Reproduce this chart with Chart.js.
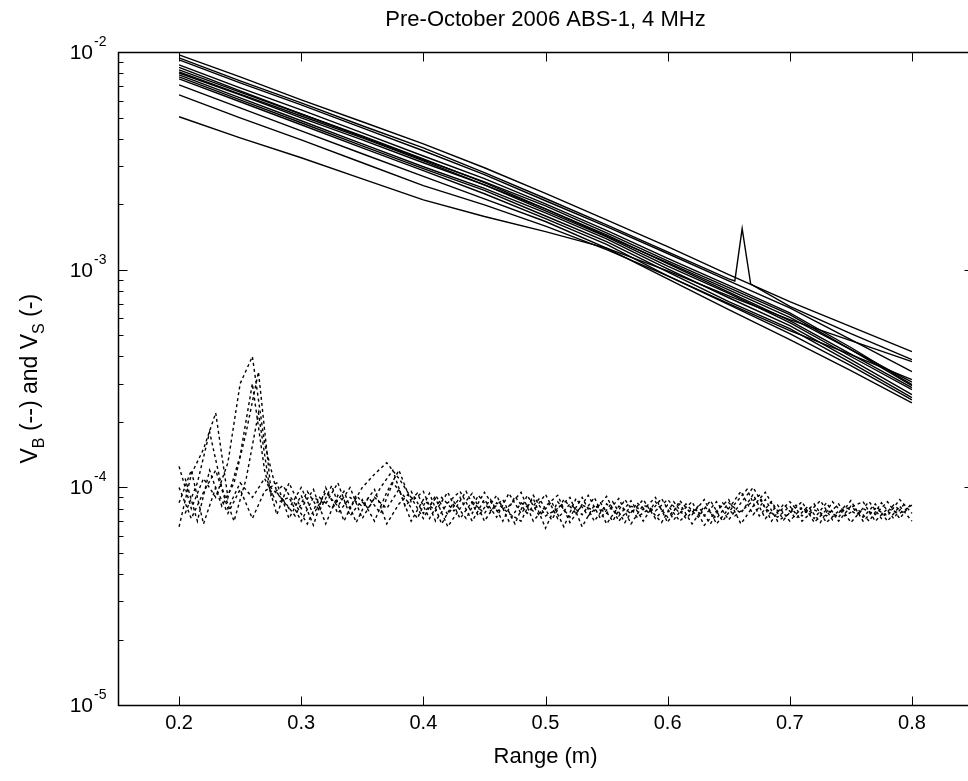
<!DOCTYPE html>
<html>
<head>
<meta charset="utf-8">
<title>Pre-October 2006 ABS-1, 4 MHz</title>
<script src="https://cdn.jsdelivr.net/npm/chart.js@4.4.1/dist/chart.umd.min.js"></script>
<style>
  html, body { margin: 0; padding: 0; background: #fff; overflow: hidden; }
  #graficas { width: 980px; height: 781px; }
</style>
</head>
<body>
<div id="graficas"><canvas id="VBVS" width="980" height="781"></canvas></div>
<script>
// datos (rango en m, V adimensional)
const TITULO = 'Pre-October 2006 ABS-1, 4 MHz';
const X_TICKS = [0.2, 0.3, 0.4, 0.5, 0.6, 0.7, 0.8];
const Y_TICKS = [1e-5, 1e-4, 1e-3, 1e-2];

// V_B, lineas continuas
const RANGE_B = [0.2, 0.25, 0.3, 0.35, 0.4, 0.45, 0.5, 0.55, 0.6, 0.65, 0.7, 0.75, 0.8];
const VB_A = [9.74e-3, 7.72e-3, 6.05e-3, 4.80e-3, 3.80e-3, 2.95e-3, 2.25e-3, 1.70e-3, 1.28e-3, 9.51e-4, 7.15e-4, 5.49e-4, 4.21e-4];
const VB_C = [9.24e-3, 7.25e-3, 5.74e-3, 4.50e-3, 3.53e-3, 2.74e-3, 2.08e-3, 1.58e-3, 1.19e-3, 8.9e-4, 6.7e-4, 4.78e-4, 3.41e-4];
const VB_D = [8.76e-3, 6.87e-3, 5.44e-3, 4.27e-3, 3.34e-3, 2.63e-3, 2.01e-3, 1.52e-3, 1.13e-3, 8.5e-4, 6.35e-4, 4.4e-4, 2.97e-4];
const VB_M = [8.53e-3, 6.66e-3, 5.21e-3, 4.09e-3, 3.21e-3, 2.54e-3, 1.97e-3, 1.48e-3, 1.10e-3, 8.3e-4, 6.23e-4, 4.30e-4, 2.94e-4];
const VB_E = [8.31e-3, 6.57e-3, 5.21e-3, 4.13e-3, 3.24e-3, 2.52e-3, 1.91e-3, 1.45e-3, 1.07e-3, 7.9e-4, 5.85e-4, 4.1e-4, 2.88e-4];
const VB_F = [8.13e-3, 6.43e-3, 5.10e-3, 4.05e-3, 3.17e-3, 2.46e-3, 1.87e-3, 1.42e-3, 1.04e-3, 7.8e-4, 5.72e-4, 4.0e-4, 2.82e-4];
const VB_J = [8.04e-3, 6.38e-3, 5.0e-3, 3.96e-3, 3.11e-3, 2.46e-3, 1.91e-3, 1.43e-3, 1.08e-3, 8.1e-4, 6.05e-4, 4.3e-4, 3.05e-4];
const VB_G = [7.88e-3, 6.18e-3, 4.85e-3, 3.80e-3, 2.98e-3, 2.37e-3, 1.83e-3, 1.39e-3, 1.01e-3, 7.45e-4, 5.54e-4, 3.87e-4, 2.67e-4];
const VB_H = [7.72e-3, 6.05e-3, 4.75e-3, 3.72e-3, 2.92e-3, 2.32e-3, 1.77e-3, 1.35e-3, 9.8e-4, 7.15e-4, 5.37e-4, 3.75e-4, 2.59e-4];
const VB_I = [7.55e-3, 5.93e-3, 4.65e-3, 3.64e-3, 2.86e-3, 2.24e-3, 1.72e-3, 1.31e-3, 9.4e-4, 6.92e-4, 5.09e-4, 3.63e-4, 2.53e-4];
const VB_K = [7.09e-3, 5.56e-3, 4.36e-3, 3.42e-3, 2.69e-3, 2.12e-3, 1.67e-3, 1.26e-3, 9.1e-4, 6.57e-4, 4.78e-4, 3.44e-4, 2.45e-4];
const VB_L = [6.38e-3, 5.0e-3, 3.96e-3, 3.11e-3, 2.44e-3, 1.99e-3, 1.59e-3, 1.24e-3, 9.4e-4, 7.0e-4, 5.26e-4, 4.08e-4, 3.13e-4];
const VB_B = [5.06e-3, 4.05e-3, 3.28e-3, 2.62e-3, 2.10e-3, 1.76e-3, 1.50e-3, 1.26e-3, 9.9e-4, 7.6e-4, 5.91e-4, 4.73e-4, 3.79e-4];
// la curva con el pico cerca de 0.66 m
const RANGE_N = [0.2, 0.25, 0.3, 0.35, 0.4, 0.45, 0.5, 0.55, 0.6, 0.65, 0.655, 0.661, 0.668, 0.7, 0.75, 0.8];
const VB_N = [9.44e-3, 7.40e-3, 5.86e-3, 4.60e-3, 3.64e-3, 2.80e-3, 2.13e-3, 1.61e-3, 1.21e-3, 9.1e-4, 8.9e-4, 1.55e-3, 8.6e-4, 6.8e-4, 5.1e-4, 3.87e-4];

// V_S, lineas punteadas
const RANGE_S = [0.20, 0.21, 0.22, 0.23, 0.24, 0.25, 0.26, 0.27, 0.28, 0.29,
                 0.30, 0.31, 0.32, 0.33, 0.34, 0.35, 0.36, 0.37, 0.38, 0.39,
                 0.40, 0.41, 0.42, 0.43, 0.44, 0.45, 0.46, 0.47, 0.48, 0.49,
                 0.50, 0.51, 0.52, 0.53, 0.54, 0.55, 0.56, 0.57, 0.58, 0.59,
                 0.60, 0.61, 0.62, 0.63, 0.64, 0.65, 0.66, 0.67, 0.68, 0.69,
                 0.70, 0.71, 0.72, 0.73, 0.74, 0.75, 0.76, 0.77, 0.78, 0.79,
                 0.80];
const VS_1 = [1.25e-4, 8.0e-5, 1.1e-4, 9.0e-5, 1.3e-4, 3.0e-4, 4.0e-4, 1.6e-4, 9.5e-5, 8.0e-5,
              1.0e-4, 7.5e-5, 9.5e-5, 8.2e-5, 1.0e-4, 7.2e-5, 9.0e-5, 8.0e-5, 9.8e-5, 7.0e-5,
              8.8e-5, 7.8e-5, 9.5e-5, 7.2e-5, 8.6e-5, 7.6e-5, 9.2e-5, 7.0e-5, 8.5e-5, 7.8e-5,
              9.3e-5, 7.2e-5, 8.4e-5, 7.5e-5, 9.0e-5, 6.8e-5, 8.2e-5, 7.6e-5, 8.8e-5, 7.2e-5,
              8.3e-5, 7.0e-5, 8.0e-5, 7.4e-5, 8.6e-5, 7.1e-5, 8.5e-5, 1.0e-4, 8.0e-5, 7.3e-5,
              8.2e-5, 7.0e-5, 7.9e-5, 7.4e-5, 8.4e-5, 6.9e-5, 8.0e-5, 7.5e-5, 8.6e-5, 7.2e-5,
              8.5e-5];
const VS_2 = [6.6e-5, 1.15e-4, 1.5e-4, 2.2e-4, 9.0e-5, 1.4e-4, 3.0e-4, 1.2e-4, 7.5e-5, 1.05e-4,
              8.0e-5, 9.8e-5, 6.8e-5, 9.2e-5, 8.0e-5, 1.0e-4, 1.15e-4, 1.3e-4, 1.1e-4, 9.0e-5,
              7.2e-5, 9.2e-5, 7.5e-5, 9.0e-5, 7.0e-5, 8.8e-5, 7.3e-5, 9.4e-5, 7.6e-5, 8.9e-5,
              6.5e-5, 8.6e-5, 7.3e-5, 9.0e-5, 7.0e-5, 8.4e-5, 7.4e-5, 8.7e-5, 7.0e-5, 8.6e-5,
              7.3e-5, 8.4e-5, 6.8e-5, 8.2e-5, 7.2e-5, 8.5e-5, 7.6e-5, 9.3e-5, 7.2e-5, 8.3e-5,
              7.0e-5, 8.1e-5, 7.2e-5, 8.5e-5, 7.0e-5, 8.2e-5, 7.3e-5, 8.4e-5, 7.0e-5, 8.2e-5,
              7.0e-5];
const VS_3 = [1.0e-4, 7.2e-5, 9.5e-5, 1.2e-4, 8.0e-5, 1.05e-4, 9.0e-5, 1.1e-4, 8.5e-5, 9.0e-5,
              7.0e-5, 9.0e-5, 8.4e-5, 1.05e-4, 7.4e-5, 8.8e-5, 7.0e-5, 9.5e-5, 1.2e-4, 8.6e-5,
              9.6e-5, 7.0e-5, 8.5e-5, 9.6e-5, 7.6e-5, 9.5e-5, 7.8e-5, 8.2e-5, 9.5e-5, 7.0e-5,
              8.2e-5, 9.2e-5, 6.9e-5, 8.3e-5, 7.8e-5, 9.1e-5, 7.0e-5, 8.2e-5, 7.9e-5, 9.0e-5,
              6.9e-5, 8.7e-5, 7.5e-5, 8.8e-5, 6.8e-5, 8.0e-5, 9.6e-5, 7.5e-5, 8.8e-5, 7.0e-5,
              7.6e-5, 8.6e-5, 6.9e-5, 7.9e-5, 7.3e-5, 8.7e-5, 7.0e-5, 8.0e-5, 7.4e-5, 8.8e-5,
              7.6e-5];
const VS_4 = [8.5e-5, 1.2e-4, 6.8e-5, 1.0e-4, 7.6e-5, 9.8e-5, 7.2e-5, 9.6e-5, 1.05e-4, 7.2e-5,
              9.2e-5, 6.7e-5, 1.0e-4, 7.6e-5, 9.0e-5, 8.2e-5, 9.8e-5, 6.8e-5, 8.4e-5, 9.6e-5,
              7.6e-5, 8.9e-5, 6.6e-5, 8.0e-5, 9.4e-5, 7.0e-5, 8.5e-5, 7.6e-5, 7.0e-5, 9.2e-5,
              7.4e-5, 8.0e-5, 9.0e-5, 6.6e-5, 8.3e-5, 7.6e-5, 8.9e-5, 6.8e-5, 8.3e-5, 7.8e-5,
              8.8e-5, 7.6e-5, 8.6e-5, 6.7e-5, 7.8e-5, 8.8e-5, 6.8e-5, 8.2e-5, 9.5e-5, 7.6e-5,
              8.6e-5, 7.4e-5, 8.4e-5, 6.9e-5, 7.8e-5, 8.1e-5, 8.6e-5, 7.0e-5, 8.0e-5, 7.6e-5,
              8.3e-5];
// otras dos curvas, muestreadas entre medias
const RANGE_S2 = [0.205, 0.215, 0.225, 0.235, 0.245, 0.255, 0.265, 0.275, 0.285, 0.295,
                  0.305, 0.315, 0.325, 0.335, 0.345, 0.355, 0.365, 0.375, 0.385, 0.395,
                  0.405, 0.415, 0.425, 0.435, 0.445, 0.455, 0.465, 0.475, 0.485, 0.495,
                  0.505, 0.515, 0.525, 0.535, 0.545, 0.555, 0.565, 0.575, 0.585, 0.595,
                  0.605, 0.615, 0.625, 0.635, 0.645, 0.655, 0.665, 0.675, 0.685, 0.695,
                  0.705, 0.715, 0.725, 0.735, 0.745, 0.755, 0.765, 0.775, 0.785, 0.795];
const VS_5 = [1.1e-4, 7.0e-5, 1.2e-4, 8.2e-5, 1.05e-4, 1.8e-4, 3.4e-4, 1.0e-4, 8.8e-5, 7.4e-5,
              9.6e-5, 7.8e-5, 1.02e-4, 7.0e-5, 9.2e-5, 8.0e-5, 1.0e-4, 1.2e-4, 8.2e-5, 9.4e-5,
              7.2e-5, 9.0e-5, 7.8e-5, 9.6e-5, 7.4e-5, 8.8e-5, 7.0e-5, 9.1e-5, 7.6e-5, 8.9e-5,
              7.1e-5, 8.8e-5, 7.6e-5, 9.2e-5, 7.2e-5, 8.6e-5, 6.9e-5, 8.5e-5, 7.6e-5, 8.9e-5,
              7.1e-5, 8.4e-5, 7.3e-5, 8.7e-5, 7.0e-5, 8.4e-5, 9.8e-5, 7.4e-5, 8.6e-5, 7.1e-5,
              8.3e-5, 7.6e-5, 8.7e-5, 7.1e-5, 8.2e-5, 7.5e-5, 8.6e-5, 7.2e-5, 8.3e-5, 7.5e-5];
const VS_6 = [7.6e-5, 1.05e-4, 1.8e-4, 1.0e-4, 7.0e-5, 1.1e-4, 2.2e-4, 9.2e-5, 1.02e-4, 8.4e-5,
              6.8e-5, 9.0e-5, 8.0e-5, 9.6e-5, 6.9e-5, 9.0e-5, 7.6e-5, 1.05e-4, 9.0e-5, 7.2e-5,
              9.4e-5, 6.8e-5, 8.6e-5, 7.2e-5, 9.2e-5, 7.8e-5, 8.8e-5, 6.8e-5, 9.2e-5, 7.4e-5,
              8.6e-5, 6.6e-5, 8.9e-5, 7.4e-5, 8.5e-5, 7.0e-5, 8.8e-5, 7.3e-5, 8.0e-5, 6.9e-5,
              8.6e-5, 7.2e-5, 8.2e-5, 6.8e-5, 8.5e-5, 7.4e-5, 8.2e-5, 9.2e-5, 7.0e-5, 8.4e-5,
              7.2e-5, 8.2e-5, 6.9e-5, 8.6e-5, 7.4e-5, 8.0e-5, 7.0e-5, 8.5e-5, 7.2e-5, 8.6e-5];

const FUENTE = "'Liberation Sans', Arial, Helvetica, sans-serif";

function puntos(xs, ys) {
  return xs.map((x, i) => ({x: x, y: ys[i]}));
}

const curvasB = [
  [RANGE_B, VB_A], [RANGE_N, VB_N], [RANGE_B, VB_C], [RANGE_B, VB_D], [RANGE_B, VB_M],
  [RANGE_B, VB_E], [RANGE_B, VB_F], [RANGE_B, VB_J], [RANGE_B, VB_G], [RANGE_B, VB_H],
  [RANGE_B, VB_I], [RANGE_B, VB_K], [RANGE_B, VB_L], [RANGE_B, VB_B]
];
const curvasS = [
  [RANGE_S, VS_1], [RANGE_S, VS_2], [RANGE_S, VS_3], [RANGE_S, VS_4],
  [RANGE_S2, VS_5], [RANGE_S2, VS_6]
];

var datasets = [];
curvasB.forEach(c => {
  datasets.push({
    data: puntos(c[0], c[1]),
    borderColor: '#000', borderWidth: 1.4, pointRadius: 0, tension: 0
  });
});
curvasS.forEach(c => {
  datasets.push({
    data: puntos(c[0], c[1]),
    borderColor: '#000', borderWidth: 1.4, borderDash: [3, 3], pointRadius: 0, tension: 0
  });
});

// marco, marcas hacia dentro, etiquetas 10^n y titulo del eje y
const ejes = {
  id: 'ejes',
  afterDatasetsDraw(chart) {
    const {ctx, chartArea: a, scales: {x, y}} = chart;
    const L = Math.round(a.left) + 0.5, R = Math.round(a.right) + 0.5;
    const T = Math.round(a.top) + 0.5, B = Math.round(a.bottom) + 0.5;
    ctx.save();
    ctx.strokeStyle = '#000';
    ctx.lineWidth = 1.5;
    ctx.setLineDash([]);
    ctx.strokeRect(L, T, R - L, B - T);
    ctx.lineWidth = 1;
    ctx.beginPath();
    X_TICKS.forEach(v => {
      const px = Math.round(x.getPixelForValue(v)) + 0.5;
      ctx.moveTo(px, B); ctx.lineTo(px, B - 9);
      ctx.moveTo(px, T); ctx.lineTo(px, T + 9);
    });
    Y_TICKS.forEach(v => {
      const py = Math.round(y.getPixelForValue(v)) + 0.5;
      ctx.moveTo(L, py); ctx.lineTo(L + 9, py);
      ctx.moveTo(R, py); ctx.lineTo(R - 9, py);
    });
    for (let e = -5; e < -2; e++) {
      for (let m = 2; m < 10; m++) {
        const py = Math.round(y.getPixelForValue(m * Math.pow(10, e))) + 0.5;
        ctx.moveTo(L, py); ctx.lineTo(L + 5, py);
        ctx.moveTo(R, py); ctx.lineTo(R - 5, py);
      }
    }
    ctx.stroke();

    ctx.fillStyle = '#000';
    ctx.textBaseline = 'middle';
    Y_TICKS.forEach(v => {
      const py = y.getPixelForValue(v);
      const exp = Math.round(Math.log10(v));
      ctx.font = '21px ' + FUENTE;
      ctx.textAlign = 'right';
      ctx.fillText('10', 93, py + 1);
      ctx.font = '14px ' + FUENTE;
      ctx.textAlign = 'left';
      ctx.fillText(String(exp), 94, py - 10);
    });

    const partes = [['V', 0], ['B', 1], [' (--) and V', 0], ['S', 1], [' (-)', 0]];
    let total = 0;
    partes.forEach(p => {
      ctx.font = (p[1] ? '16px ' : '23px ') + FUENTE;
      p.push(ctx.measureText(p[0]).width);
      total += p[2];
    });
    ctx.translate(37, (a.top + a.bottom) / 2);
    ctx.rotate(-Math.PI / 2);
    ctx.textAlign = 'left';
    ctx.textBaseline = 'alphabetic';
    let u = -total / 2;
    partes.forEach(p => {
      ctx.font = (p[1] ? '16px ' : '23px ') + FUENTE;
      ctx.fillText(p[0], u, p[1] ? 7 : 0);
      u += p[2];
    });
    ctx.restore();
  }
};

var grafico = new Chart(document.getElementById('VBVS'), {
  type: 'line',
  data: { datasets: datasets },
  options: {
    responsive: false,
    animation: false,
    devicePixelRatio: 1,
    layout: { padding: { left: 0, right: 7, top: 0, bottom: 0 } },
    plugins: {
      legend: { display: false },
      tooltip: { enabled: false },
      title: {
        display: true, text: TITULO, color: '#000', fullSize: false,
        font: { family: FUENTE, size: 22, weight: 'normal' },
        padding: { top: 7, bottom: 19 }
      }
    },
    scales: {
      x: {
        type: 'linear', min: 0.15, max: 0.85,
        afterBuildTicks: s => { s.ticks = X_TICKS.map(v => ({value: v})); },
        afterFit: s => { s.height = 76; },
        grid: { display: false, drawTicks: false },
        border: { display: false },
        ticks: {
          color: '#000', padding: 6, maxRotation: 0, autoSkip: false,
          font: { family: FUENTE, size: 20 },
          callback: v => Number(v).toFixed(1)
        },
        title: {
          display: true, text: 'Range (m)', color: '#000',
          font: { family: FUENTE, size: 22 },
          padding: { top: 0, bottom: 11 }
        }
      },
      y: {
        type: 'logarithmic', min: 1e-5, max: 1e-2,
        afterFit: s => { s.width = 118; },
        grid: { display: false, drawTicks: false },
        border: { display: false },
        ticks: { display: false }
      }
    }
  },
  plugins: [ejes]
});
</script>
</body>
</html>
